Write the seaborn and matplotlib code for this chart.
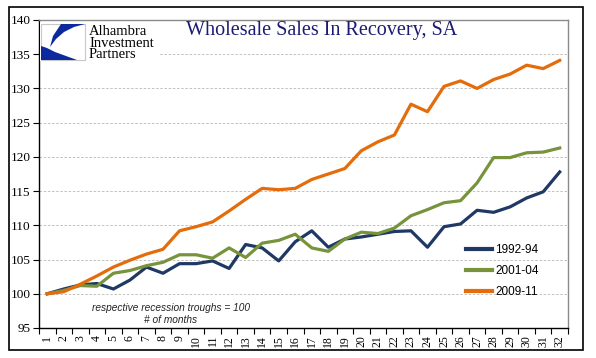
import numpy as np
import pandas as pd
import matplotlib
matplotlib.use("Agg")
import matplotlib.pyplot as plt
from matplotlib.patches import Polygon, Rectangle
import seaborn as sns

# ------------------------------------------------------------
# data (indexed, respective recession troughs = 100)
# ------------------------------------------------------------
months = list(range(1, 33))
s_1992 = [100.0, 100.7, 101.3, 101.5, 100.7, 102.0, 103.9, 103.0, 104.4, 104.4,
          104.8, 103.7, 107.2, 106.7, 104.8, 107.6, 109.2, 106.8, 108.0, 108.3,
          108.7, 109.1, 109.2, 106.8, 109.8, 110.2, 112.2, 111.9, 112.7, 114.0,
          114.9, 117.8]
s_2001 = [100.0, 100.5, 101.2, 101.1, 103.0, 103.4, 104.1, 104.6, 105.7, 105.7,
          105.2, 106.7, 105.3, 107.4, 107.8, 108.7, 106.7, 106.2, 108.0, 109.0,
          108.8, 109.6, 111.4, 112.3, 113.3, 113.6, 116.2, 119.9, 119.9, 120.6,
          120.7, 121.3]
s_2009 = [100.0, 100.3, 101.4, 102.6, 103.9, 104.9, 105.8, 106.5, 109.2, 109.8,
          110.5, 112.1, 113.8, 115.4, 115.2, 115.4, 116.7, 117.5, 118.3, 120.9,
          122.2, 123.2, 127.7, 126.6, 130.3, 131.1, 130.0, 131.3, 132.1, 133.4,
          132.9, 134.1]
series_names = ["1992-94", "2001-04", "2009-11"]
colors = ["#1F3864", "#77933C", "#E46C0A"]
y_ticks = list(range(95, 141, 5))

df = pd.DataFrame({
    "month": months * 3,
    "value": s_1992 + s_2001 + s_2009,
    "period": [series_names[0]] * 32 + [series_names[1]] * 32 + [series_names[2]] * 32,
})

W, H = 596, 358
fig = plt.figure(figsize=(W / 100, H / 100), dpi=100)
fig.patch.set_facecolor("white")


def fx(x):
    return x / W


def fy(y):
    return 1 - y / H


ax = fig.add_axes([fx(39), fy(328), fx(568) - fx(39), fy(20) - fy(328)])

sns.lineplot(data=df, x="month", y="value", hue="period", palette=colors,
             linewidth=2.3, ax=ax, legend=True)

ax.set_xlim(0.5, 32.5)
ax.set_ylim(95, 140)
ax.set_xlabel("")
ax.set_ylabel("")

# y axis
ax.set_yticks(y_ticks)
ax.set_yticklabels([str(t) for t in y_ticks], family="Liberation Serif", fontsize=9.5)
ax.tick_params(axis="y", length=4, width=0.8, pad=2, color="black")
ax.yaxis.grid(True, linestyle=(0, (3, 2)), color="#b8b8b8", linewidth=0.6)
ax.set_axisbelow(True)

# x axis: labels at categories, ticks at boundaries
ax.set_xticks(months)
ax.set_xticklabels([str(m) for m in months], rotation=90,
                   family="Liberation Serif", fontsize=8.5)
ax.tick_params(axis="x", which="major", length=0, pad=5)
ax.set_xticks(np.arange(0.5, 33, 1), minor=True)
ax.tick_params(axis="x", which="minor", length=4, width=0.8, color="black")

for side in ["left", "bottom"]:
    ax.spines[side].set_color("black")
    ax.spines[side].set_linewidth(1.0)
for side in ["top", "right"]:
    ax.spines[side].set_color("#8a8a8a")
    ax.spines[side].set_linewidth(1.0)

# legend
leg = ax.legend(loc="upper left", bbox_to_anchor=(fx(466), fy(244)),
                bbox_transform=fig.transFigure, frameon=False,
                handlelength=2.2, handletextpad=0.3, labelspacing=0.75,
                borderpad=0, borderaxespad=0,
                prop={"family": "Liberation Sans", "size": 8.5})
for line in leg.get_lines():
    line.set_linewidth(3)

# title
fig.text(fx(322), fy(31), "Wholesale Sales In Recovery, SA", ha="center", va="center",
         family="Liberation Serif", fontsize=14.5, color="#1b1b74")

# notes
fig.text(fx(171), fy(308), "respective recession troughs = 100", ha="center", va="center",
         family="Liberation Sans", style="italic", fontsize=7.3, color="#222222")
fig.text(fx(171), fy(320), "# of months", ha="center", va="center",
         family="Liberation Sans", style="italic", fontsize=7.3, color="#222222")

# logo
fig.patches.append(Rectangle((fx(40), fy(61)), fx(160) - fx(40), fy(22) - fy(61),
                             transform=fig.transFigure, facecolor="white",
                             edgecolor="none", zorder=3))
fig.patches.append(Rectangle((fx(41), fy(60)), fx(85) - fx(41), fy(24) - fy(60),
                             transform=fig.transFigure, facecolor="white",
                             edgecolor="#c8c8c8", linewidth=0.8, zorder=4))
blue = "#0c2a9e"
upper = [(61, 24), (85, 24), (74, 27), (64, 32), (56, 39), (50, 47), (53, 36)]
lower = [(41, 60), (41, 46), (47, 48), (55, 52), (66, 56), (77, 60)]
for pts in (upper, lower):
    fig.patches.append(Polygon([(fx(x), fy(y)) for x, y in pts], closed=True,
                               transform=fig.transFigure, facecolor=blue,
                               edgecolor="none", zorder=5))
for i, word in enumerate(["Alhambra", "Investment", "Partners"]):
    fig.text(fx(89), fy(35 + i * 11.7), word, ha="left", va="baseline",
             family="Liberation Serif", fontsize=10.5, color="black", zorder=6)

# outer frame
fig.patches.append(Rectangle((fx(9), fy(350)), fx(583) - fx(9), fy(7) - fy(350),
                             transform=fig.transFigure, facecolor="none",
                             edgecolor="black", linewidth=1.2, zorder=10))

fig.savefig("out.png", dpi=100)
